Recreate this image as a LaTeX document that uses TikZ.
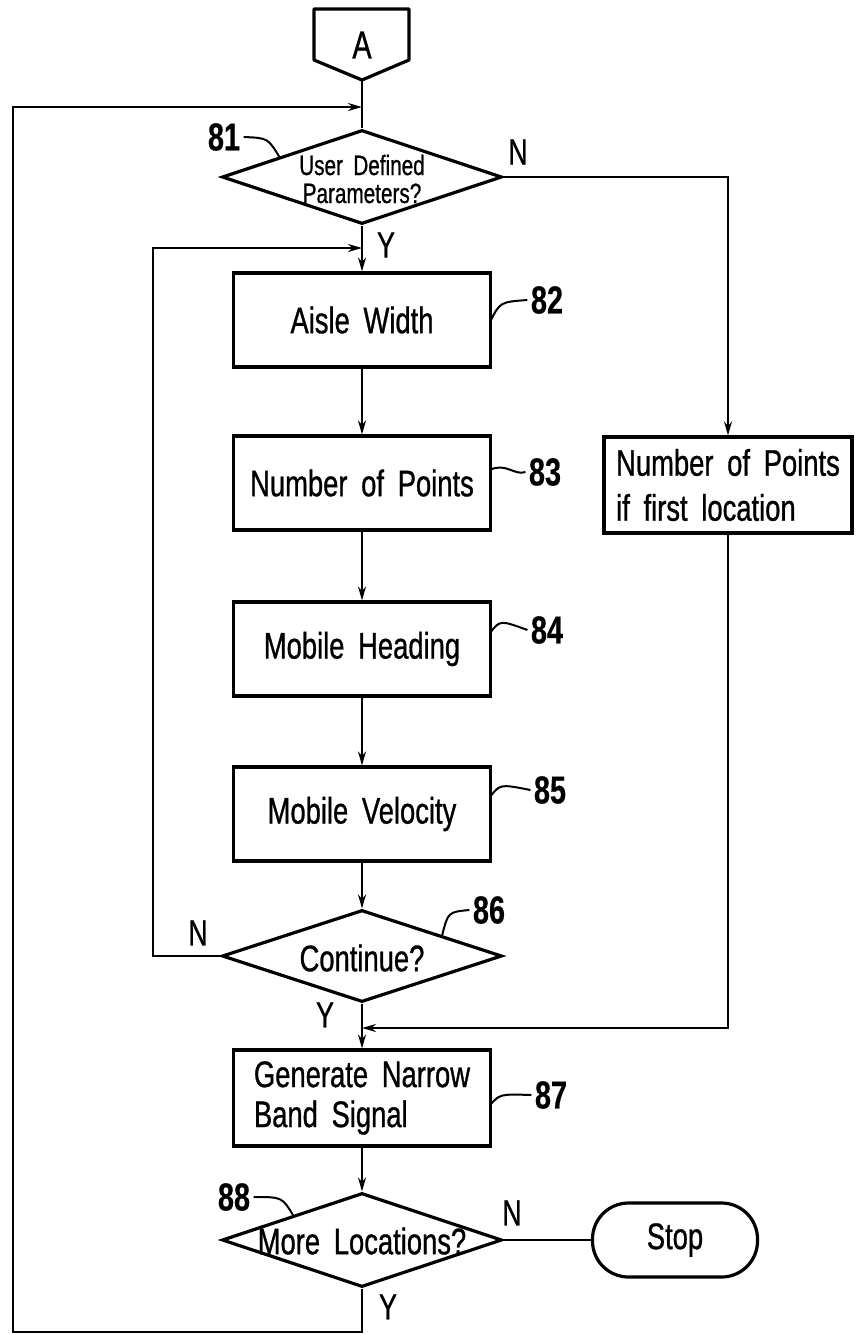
\documentclass[tikz,border=0pt]{standalone}
\usepackage{fontspec}
\setmainfont{Liberation Sans}[FakeStretch=0.74, WordSpace=1.8,
  UprightFeatures={FakeBold=0.8}, BoldFeatures={FakeBold=0.4}]
\usetikzlibrary{shapes.geometric,arrows.meta}

\begin{document}
\begin{tikzpicture}[x=1pt,y=-1pt,
  txt/.style={font=\fontsize{37}{40}\selectfont},
  box/.style={draw, line width=3.2pt, minimum width=257pt, minimum height=94pt,
              inner sep=0pt, txt},
  dec/.style={draw, shape=diamond, line width=3.2pt, minimum width=280pt,
              minimum height=94pt, inner sep=0pt},
  flow/.style={line width=2pt},
  arr/.style={flow, -{Stealth[length=14pt,width=8pt]}},
  tag/.style={font=\fontsize{39}{42}\selectfont\bfseries},
  yn/.style={font=\fontsize{36}{40}\selectfont},
  lead/.style={line width=2pt}
]
\useasboundingbox (0,0) rectangle (856,1334);

% off-page connector
\draw[line width=3.2pt, line join=round] (314,9) -- (409,9) -- (409,60) -- (362,80) -- (314,60) -- cycle;
\node[font=\fontsize{39}{42}\selectfont] (A) at (362,45) {A};
\coordinate (Atip) at (362,80);

% decisions and process steps
\node[dec] (d81) at (362,177) {};
\node[font=\fontsize{28}{28}\selectfont, align=center] (t81) at (362,179) {User Defined\\Parameters?};

\node[box] (b82) at (362,320) {Aisle Width};
\node[box] (b83) at (362,483) {Number of Points};
\node[box] (b84) at (362,649) {Mobile Heading};
\node[box] (b85) at (362,814) {Mobile Velocity};

\node[dec, minimum height=92pt] (d86) at (362,956) {};
\node[txt] (t86) at (362,958) {Continue?};

\node[box, minimum height=96pt, align=left] (b87) at (362,1098) {Generate Narrow\\Band Signal};

\node[dec] (d88) at (362,1240) {};
\node[txt] (t88) at (362,1241) {More Locations?};

\node[draw, line width=3.2pt, rounded corners=36pt, minimum width=165pt,
      minimum height=74pt, txt] (stop) at (675,1240) {Stop};

\node[box, minimum width=248pt, minimum height=96pt, align=left,
      font=\fontsize{37}{45}\selectfont] (rbox) at (728,485) {Number of Points\\if first location};

% junction points and loop corners
\coordinate (j1) at (362,107);
\coordinate (j2) at (362,248);
\coordinate (j3) at (728,1028);
\coordinate (j3e) at (362,1028);
\coordinate (k1) at (153,956);
\coordinate (k2) at (13,1332);

% main flow
\draw[flow] (Atip) -- (d81.north);
\draw[arr] (d81.south) -- (b82.north);
\draw[arr] (b82.south) -- (b83.north);
\draw[arr] (b83.south) -- (b84.north);
\draw[arr] (b84.south) -- (b85.north);
\draw[arr] (b85.south) -- (d86.north);
\draw[arr] (d86.south) -- (b87.north);
\draw[arr] (b87.south) -- (d88.north);
\draw[flow] (d88.east) -- (stop.west);

% N branch of 81
\draw[arr] (d81.east) -| (rbox.north);
\draw[arr] (rbox.south) -- (j3) -- (j3e);

% N loop of 86
\draw[arr] (d86.west) -- (k1) |- (j2);

% Y loop of 88
\draw[arr] (d88.south) |- (k2) |- (j1);

% branch letters
\node[yn] (n81) at (518,152) {N};
\node[yn] (y81) at (386,245) {Y};
\node[yn] (n86) at (198,933) {N};
\node[yn] (y86) at (325,1015) {Y};
\node[yn] (n88) at (512,1213) {N};
\node[yn] (y88) at (388,1307) {Y};

% reference numerals with leaders
\node[tag] (l81) at (224,137) {81};
\draw[lead] (l81.east) .. controls (268,138) .. (280,158);
\node[tag] (l82) at (547,300) {82};
\draw[lead] (490,322) .. controls (500,302) .. (l82.west);
\node[tag] (l83) at (545,472) {83};
\draw[lead] (490,470) .. controls (505,462) and (515,476) .. (l83.west);
\node[tag] (l84) at (547,630) {84};
\draw[lead] (490,633) .. controls (500,620) .. (l84.west);
\node[tag] (l85) at (550,790) {85};
\draw[lead] (490,797) .. controls (500,784) .. (l85.west);
\node[tag] (l86) at (489,910) {86};
\draw[lead] (l86.west) .. controls (448,912) .. (442,936);
\node[tag] (l87) at (551,1095) {87};
\draw[lead] (490,1105) .. controls (500,1094) .. (l87.west);
\node[tag] (l88) at (234,1197) {88};
\draw[lead] (l88.east) .. controls (282,1197) .. (293,1215);
\end{tikzpicture}
\end{document}
